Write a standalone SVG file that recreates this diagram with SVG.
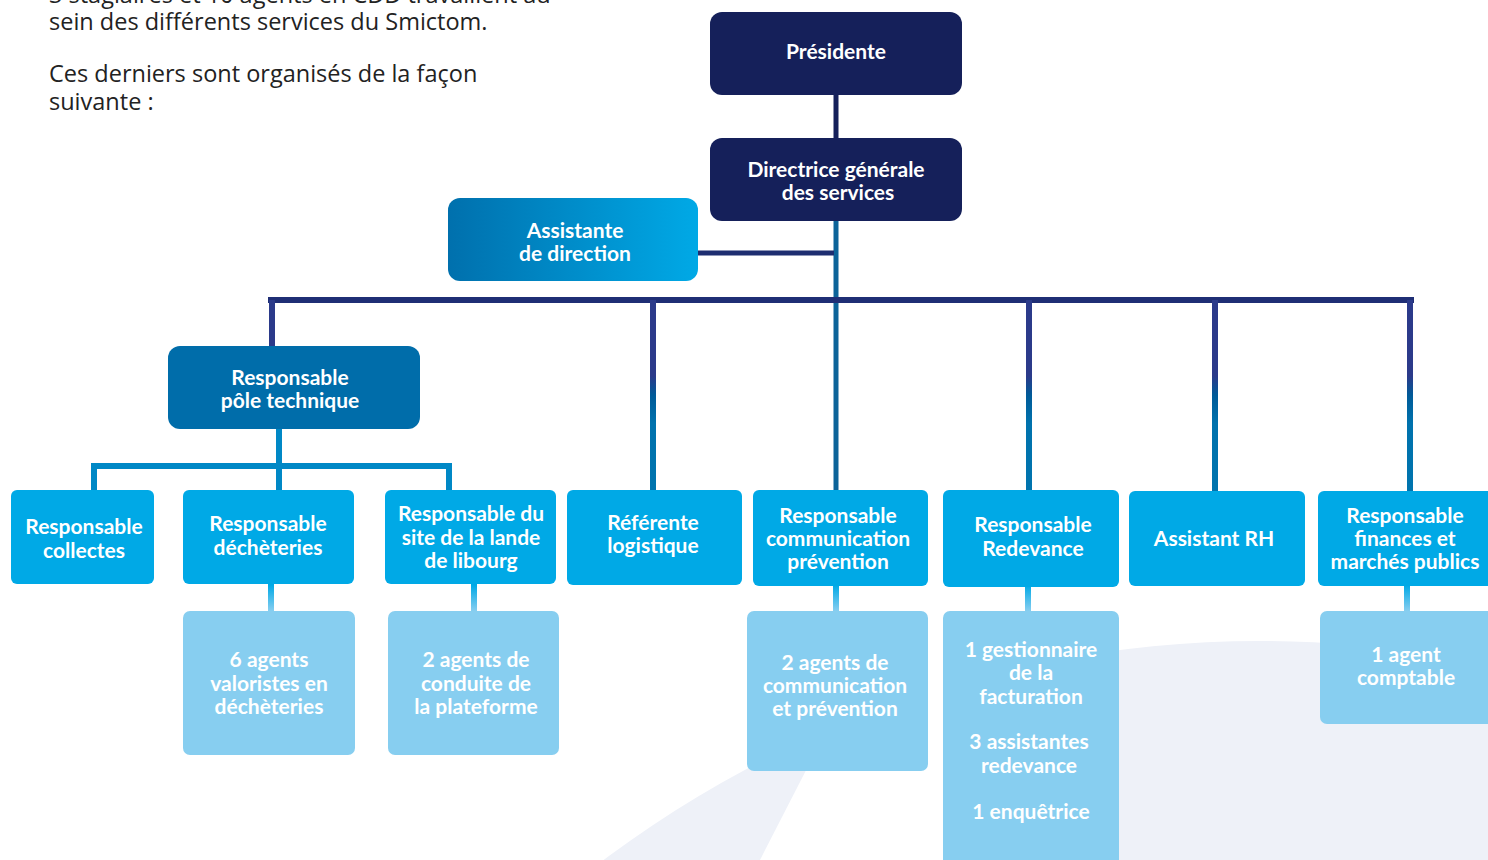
<svg xmlns="http://www.w3.org/2000/svg" width="1488" height="860" viewBox="0 0 1488 860">
<defs>
<style>
.intro{font-family:"Open Sans",Lato,sans-serif;font-size:23.5px;fill:#222;}
.t{font-family:Lato,"Open Sans",sans-serif;font-weight:700;font-size:21px;fill:#fff;text-anchor:middle;}
.navy{fill:#15205A;}
.pole{fill:#006DAA;}
.lvl{fill:#00A9E6;}
.sub{fill:#87CEF0;}
</style>
<linearGradient id="gAss" x1="0" y1="0" x2="1" y2="0">
<stop offset="0" stop-color="#0070AD"/>
<stop offset="1" stop-color="#00A9E6"/>
</linearGradient>
<linearGradient id="gDrop" gradientUnits="userSpaceOnUse" x1="0" y1="300" x2="0" y2="490">
<stop offset="0" stop-color="#2B3A8A"/>
<stop offset="0.4" stop-color="#2B3A8A"/>
<stop offset="0.5" stop-color="#005A98"/>
<stop offset="0.65" stop-color="#0072AD"/>
<stop offset="1" stop-color="#0074AE"/>
</linearGradient>
<linearGradient id="gSub" gradientUnits="userSpaceOnUse" x1="0" y1="585" x2="0" y2="611">
<stop offset="0" stop-color="#00A9E6"/>
<stop offset="1" stop-color="#87CEF0"/>
</linearGradient>
</defs>

<rect width="1488" height="860" fill="#fff"/>
<g id="background">
<circle cx="1260" cy="1734" r="1093" fill="#EEF1F8"/>
<polygon points="819,745 760,860 1100,860 1100,600" fill="#fff"/>
</g>

<g id="intro">
<text class="intro" x="49" y="3">3 stagiaires et 10 agents en CDD travaillent au</text>
<text class="intro" x="49" y="30">sein des différents services du Smictom.</text>
<text class="intro" x="49" y="82">Ces derniers sont organisés de la façon</text>
<text class="intro" x="49" y="110">suivante :</text>
</g>

<g id="connectors">
<rect x="833.5" y="94" width="5" height="46" fill="#15205A"/>
<rect x="833.5" y="220" width="5" height="272" fill="#0C6399"/>
<rect x="697" y="250.5" width="137" height="5" fill="#1D2D70"/>
<rect x="268" y="297" width="1146" height="6" fill="#1F2E75"/>
<rect x="269" y="300" width="6" height="48" fill="url(#gDrop)"/>
<rect x="650" y="300" width="6" height="192" fill="url(#gDrop)"/>
<rect x="1026" y="300" width="6" height="192" fill="url(#gDrop)"/>
<rect x="1212" y="300" width="6" height="192" fill="url(#gDrop)"/>
<rect x="1407" y="300" width="6" height="192" fill="url(#gDrop)"/>
<rect x="276" y="428" width="6" height="64" fill="#0088C6"/>
<rect x="91" y="463" width="361" height="6" fill="#0088C6"/>
<rect x="91" y="463" width="6" height="29" fill="#0088C6"/>
<rect x="446" y="463" width="6" height="29" fill="#0088C6"/>
<rect x="268" y="583" width="6" height="30" fill="url(#gSub)"/>
<rect x="471" y="583" width="6" height="30" fill="url(#gSub)"/>
<rect x="833" y="584" width="6" height="29" fill="url(#gSub)"/>
<rect x="1025" y="585" width="6" height="28" fill="url(#gSub)"/>
<rect x="1404" y="584" width="6" height="29" fill="url(#gSub)"/>
</g>

<g id="presidente">
<rect class="navy" x="710" y="12" width="252" height="83" rx="12"/>
<text class="t" x="836" y="59">Présidente</text>
</g>
<g id="directrice">
<rect class="navy" x="710" y="138" width="252" height="83" rx="12"/>
<text class="t" x="836" y="177">Directrice générale</text>
<text class="t" x="838" y="200">des services</text>
</g>
<g id="assistante-direction">
<rect x="448" y="198" width="250" height="83" rx="12" fill="url(#gAss)"/>
<text class="t" x="575" y="238">Assistante</text>
<text class="t" x="575" y="261">de direction</text>
</g>
<g id="pole-technique">
<rect class="pole" x="168" y="346" width="252" height="83" rx="12"/>
<text class="t" x="290" y="385">Responsable</text>
<text class="t" x="290" y="408">pôle technique</text>
</g>

<g id="resp-collectes">
<rect class="lvl" x="11" y="490" width="143" height="94" rx="6"/>
<text class="t" x="84" y="534">Responsable</text>
<text class="t" x="84" y="558">collectes</text>
</g>
<g id="resp-decheteries">
<rect class="lvl" x="183" y="490" width="171" height="94" rx="6"/>
<text class="t" x="268" y="531">Responsable</text>
<text class="t" x="268" y="555">déchèteries</text>
</g>
<g id="resp-site">
<rect class="lvl" x="385" y="490" width="171" height="94" rx="6"/>
<text class="t" x="471" y="521">Responsable du</text>
<text class="t" x="471" y="545">site de la lande</text>
<text class="t" x="471" y="568">de libourg</text>
</g>
<g id="referente">
<rect class="lvl" x="567" y="490" width="175" height="95" rx="6"/>
<text class="t" x="653" y="530">Référente</text>
<text class="t" x="653" y="553">logistique</text>
</g>
<g id="resp-communication">
<rect class="lvl" x="753" y="490" width="175" height="96" rx="6"/>
<text class="t" x="838" y="523">Responsable</text>
<text class="t" x="838" y="546">communication</text>
<text class="t" x="838" y="569">prévention</text>
</g>
<g id="resp-redevance">
<rect class="lvl" x="943" y="490" width="176" height="97" rx="6"/>
<text class="t" x="1033" y="532">Responsable</text>
<text class="t" x="1033" y="556">Redevance</text>
</g>
<g id="assistant-rh">
<rect class="lvl" x="1129" y="491" width="176" height="95" rx="6"/>
<text class="t" x="1214" y="546">Assistant RH</text>
</g>
<g id="resp-finances">
<rect class="lvl" x="1318" y="491" width="180" height="95" rx="6"/>
<text class="t" x="1405" y="523">Responsable</text>
<text class="t" x="1405" y="546">finances et</text>
<text class="t" x="1405" y="569">marchés publics</text>
</g>

<g id="agents-valoristes">
<rect class="sub" x="183" y="611" width="172" height="144" rx="7"/>
<text class="t" x="269" y="667">6 agents</text>
<text class="t" x="269" y="691">valoristes en</text>
<text class="t" x="269" y="714">déchèteries</text>
</g>
<g id="agents-plateforme">
<rect class="sub" x="388" y="611" width="171" height="144" rx="7"/>
<text class="t" x="476" y="667">2 agents de</text>
<text class="t" x="476" y="691">conduite de</text>
<text class="t" x="476" y="714">la plateforme</text>
</g>
<g id="agents-communication">
<rect class="sub" x="747" y="611" width="181" height="160" rx="7"/>
<text class="t" x="835" y="670">2 agents de</text>
<text class="t" x="835" y="693">communication</text>
<text class="t" x="835" y="716">et prévention</text>
</g>
<g id="agents-redevance">
<rect class="sub" x="943" y="611" width="176" height="260" rx="7"/>
<text class="t" x="1031" y="657">1 gestionnaire</text>
<text class="t" x="1031" y="680">de la</text>
<text class="t" x="1031" y="704">facturation</text>
<text class="t" x="1029" y="749">3 assistantes</text>
<text class="t" x="1029" y="773">redevance</text>
<text class="t" x="1031" y="819">1 enquêtrice</text>
</g>
<g id="agent-comptable">
<rect class="sub" x="1320" y="611" width="178" height="113" rx="7"/>
<text class="t" x="1406" y="662">1 agent</text>
<text class="t" x="1406" y="685">comptable</text>
</g>
</svg>
